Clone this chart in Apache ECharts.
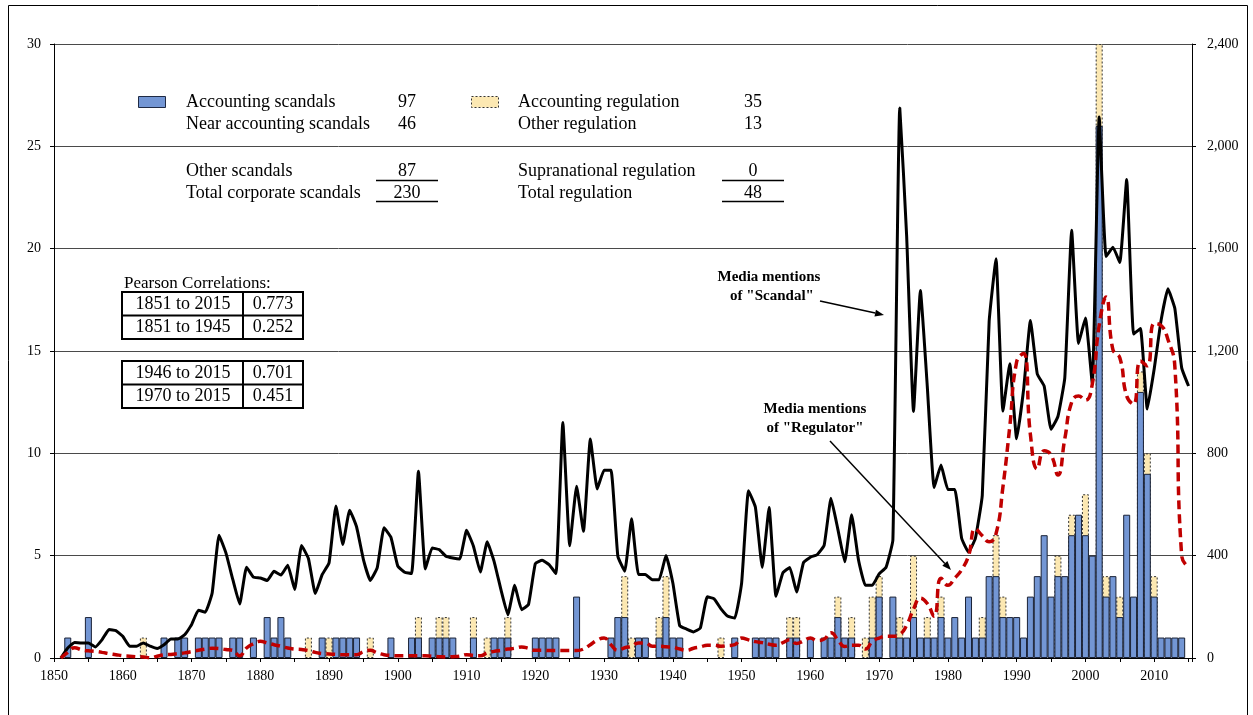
<!DOCTYPE html>
<html><head><meta charset="utf-8">
<script src="https://cdn.jsdelivr.net/npm/echarts@6/dist/echarts.min.js"></script>
<style>html,body{margin:0;padding:0;background:#fff;}#c{width:1253px;height:715px;}</style>
</head><body><div id="c"></div>
<script>
// ---------------- DATA (one value per year, starting 1851) ----------------
const FIRST_YEAR = 1851;

// corporate scandals per year (blue bars)
const scandals1851to1900 = [
  0,1,0,0,2,0,0,0,0,0,
  0,0,0,0,0,1,0,1,1,0,
  1,1,1,1,0,1,1,0,1,0,
  2,1,2,1,0,0,0,0,1,0,
  1,1,1,1,0,0,0,0,1,0];
const scandals1901to1950 = [
  0,1,1,0,1,1,1,1,0,0,
  1,0,0,1,1,1,0,0,0,1,
  1,1,1,0,0,3,0,0,0,0,
  1,2,2,0,1,1,0,1,2,1,
  1,0,0,0,0,0,0,0,1,0];
const scandals1951to2000 = [
  0,1,1,1,1,0,1,1,0,1,
  0,1,1,2,1,1,0,0,1,3,
  0,3,1,1,2,1,1,1,2,1,
  2,1,3,1,1,4,4,2,2,2,
  1,3,4,6,3,4,4,6,7,6];
const scandals2001to2015 = [5,26,3,4,2,7,3,13,9,3, 1,1,1,1,0];

// regulation per year (yellow bars, stacked on top of the scandals)
const regulation1851to1900 = [
  0,0,0,0,0,0,0,0,0,0,
  0,0,1,0,0,0,0,0,0,0,
  0,0,0,0,0,0,0,0,0,0,
  0,0,0,0,0,0,1,0,0,1,
  0,0,0,0,0,1,0,0,0,0];
const regulation1901to1950 = [
  0,0,1,0,0,1,1,0,0,0,
  1,0,1,0,0,1,0,0,0,0,
  0,0,0,0,0,0,0,0,0,0,
  0,0,2,1,0,0,0,1,2,0,
  0,0,0,0,0,0,1,0,0,0];
const regulation1951to2000 = [
  0,0,0,0,0,0,1,1,0,0,
  0,0,0,1,0,1,0,1,2,1,
  0,0,1,0,3,0,1,0,1,0,
  0,0,0,0,1,0,2,1,0,0,
  0,0,0,0,0,1,0,1,0,2];
const regulation2001to2015 = [0,4,1,0,1,0,0,1,1,1, 0,0,0,0,0];

// media mentions of "Scandal" (black line, right axis)
const scandalMentions1851to1900 = [
  0,39,61,59,59,43,72,111,107,85,
  46,46,59,46,37,52,74,74,91,130,
  187,179,254,480,411,307,211,355,316,313,
  303,339,324,363,268,440,389,252,326,372,
  594,444,578,513,385,303,352,509,472,359];
const scandalMentions1901to1950 = [
  335,330,730,348,430,424,398,391,387,499,
  437,336,454,378,267,169,284,189,209,369,
  382,365,330,921,439,671,495,856,661,734,
  734,398,339,544,326,326,306,306,401,293,
  126,113,102,117,239,231,192,163,156,293];
const scandalMentions1951to2000 = [
  654,590,354,588,241,333,354,258,373,394,
  404,440,624,503,376,560,383,284,284,329,
  354,461,2150,1650,964,1436,1063,666,754,659,
  659,468,414,468,636,1316,1561,965,1150,857,
  1047,1319,1110,1063,894,944,1095,1672,1229,1329];
const scandalMentions2001to2015 = [1071,2115,1569,1606,1546,1870,1266,1288,973,1130, 1319,1443,1367,1134,1063];

// media mentions of "Regulator" (red dashed line, right axis)
const regulatorMentions1851to1900 = [
  0,22,40,32,28,26,22,17,13,9,
  7,5,4,1,7,12,14,17,20,25,
  30,35,38,37,33,30,9,39,56,65,
  59,52,46,39,35,33,29,22,17,16,
  14,13,13,13,25,30,20,13,10,9];
const regulatorMentions1901to1950 = [
  9,9,9,9,7,5,4,5,7,13,
  10,9,20,26,30,35,38,43,38,30,
  30,29,29,29,29,29,35,52,70,78,
  52,30,40,46,59,59,46,46,44,42,
  35,30,38,43,50,50,46,48,52,78];
const regulatorMentions1951to2000 = [
  71,64,60,54,50,60,71,57,67,78,
  68,74,99,71,45,50,50,35,64,78,
  85,85,92,128,191,234,213,163,312,284,
  312,345,399,505,478,454,486,668,905,1158,
  1190,873,739,810,794,715,857,1000,1024,1008];
const regulatorMentions2001to2015 = [1071,1300,1411,1205,1174,1024,992,1161,1142,1308, 1300,1245,1142,399,354];

// legend / table texts
const legendLeft = [["Accounting scandals","97"],["Near accounting scandals","46"],["Other scandals","87"],["Total corporate scandals","230"]];
const legendRight = [["Accounting regulation","35"],["Other regulation","13"],["Supranational regulation","0"],["Total regulation","48"]];
const pearsonRows = [["1851 to 2015","0.773"],["1851 to 1945","0.252"],["1946 to 2015","0.701"],["1970 to 2015","0.451"]];

// ---------------- BUILD ----------------
const scandals = [].concat(scandals1851to1900, scandals1901to1950, scandals1951to2000, scandals2001to2015);
const regulation = [].concat(regulation1851to1900, regulation1901to1950, regulation1951to2000, regulation2001to2015);
const scandalMentions = [].concat(scandalMentions1851to1900, scandalMentions1901to1950, scandalMentions1951to2000, scandalMentions2001to2015);
const regulatorMentions = [].concat(regulatorMentions1851to1900, regulatorMentions1901to1950, regulatorMentions1951to2000, regulatorMentions2001to2015);

// the regulation segment sits on top of the scandal bar: draw the stack top (scandals+regulation)
// underneath, and the scandal bar over it at the same position
const scandalBars = scandals.map((v, i) => [FIRST_YEAR + i, v > 0 ? v : '-']);
const regulationTopBars = regulation.map((v, i) => [FIRST_YEAR + i, v > 0 ? v + scandals[i] : '-']);
const lineData = arr => arr.map((v, i) => [FIRST_YEAR + i, v]);

const SERIF = '"Liberation Serif", "Times New Roman", serif';
function txt(x, y, text, size, align, bold) {
  return { type: 'text', z: 100, style: {
    text: text, x: x, y: y, fill: '#000',
    font: (bold ? 'bold ' : '') + size + 'px ' + SERIF,
    align: align || 'left', verticalAlign: 'middle',
    textAlign: align || 'left', textVerticalAlign: 'middle' } };
}
function hline(x1, x2, y, w) {
  return { type: 'line', z: 100, shape: { x1: x1, y1: y, x2: x2, y2: y }, style: { stroke: '#000', lineWidth: w || 1.5 } };
}
function vline(x, y1, y2, w) {
  return { type: 'line', z: 100, shape: { x1: x, y1: y1, x2: x, y2: y2 }, style: { stroke: '#000', lineWidth: w || 1.5 } };
}
function arrow(x1, y1, x2, y2) {
  const a = Math.atan2(y2 - y1, x2 - x1), L = 9, W = 3.5;
  const bx = x2 - L * Math.cos(a), by = y2 - L * Math.sin(a);
  return [
    { type: 'line', z: 100, shape: { x1: x1, y1: y1, x2: bx, y2: by }, style: { stroke: '#000', lineWidth: 1.5 } },
    { type: 'polygon', z: 100, shape: { points: [[x2, y2], [bx + W * Math.sin(a), by - W * Math.cos(a)], [bx - W * Math.sin(a), by + W * Math.cos(a)]] }, style: { fill: '#000' } }
  ];
}

const g = [];
g.push({ type: 'rect', z: 100, shape: { x: 8.5, y: 5.5, width: 1239, height: 730 }, style: { fill: 'none', stroke: '#000', lineWidth: 1 } });
g.push({ type: 'rect', z: 100, shape: { x: 138.5, y: 96.5, width: 27, height: 11 }, style: { fill: '#7396d4', stroke: '#1f2a44', lineWidth: 1 } });
g.push({ type: 'rect', z: 100, shape: { x: 471.5, y: 96.5, width: 27, height: 11 }, style: { fill: '#fce8b2', stroke: '#333', lineWidth: 1, lineDash: [2, 2] } });
const rowY = [102, 124, 171, 193];
legendLeft.forEach((r, i) => { g.push(txt(186, rowY[i], r[0], 18)); g.push(txt(407, rowY[i], r[1], 18, 'center')); });
legendRight.forEach((r, i) => { g.push(txt(518, rowY[i], r[0], 18)); g.push(txt(753, rowY[i], r[1], 18, 'center')); });
g.push(hline(376, 438, 180.5)); g.push(hline(376, 438, 201.5));
g.push(hline(722, 784, 180.5)); g.push(hline(722, 784, 201.5));
g.push(txt(124, 284, 'Pearson Correlations:', 17));
[292, 361].forEach((top, b) => {
  g.push({ type: 'rect', z: 100, shape: { x: 122, y: top, width: 181, height: 47 }, style: { fill: '#fff', stroke: '#000', lineWidth: 2 } });
  g.push(hline(122, 303, top + 23.5, 2));
  g.push(vline(243, top, top + 47, 2));
  for (let r = 0; r < 2; r++) {
    const row = pearsonRows[b * 2 + r];
    g.push(txt(183, top + 12 + r * 23.5, row[0], 18, 'center'));
    g.push(txt(273, top + 12 + r * 23.5, row[1], 18, 'center'));
  }
});
g.push(txt(769, 277, 'Media mentions', 15, 'center', true));
g.push(txt(772, 296, 'of "Scandal"', 15, 'center', true));
arrow(820, 301, 884, 315).forEach(e => g.push(e));
g.push(txt(815, 409, 'Media mentions', 15, 'center', true));
g.push(txt(815, 428, 'of "Regulator"', 15, 'center', true));
arrow(830, 441, 951, 570).forEach(e => g.push(e));

const axisFont = { fontFamily: SERIF, fontSize: 14, color: '#000' };

const option = {
  animation: false,
  backgroundColor: '#fff',
  grid: { left: 54, right: 61, top: 44, bottom: 57, containLabel: false },
  xAxis: {
    type: 'value', min: 1850, max: 2015.5, interval: 5,
    axisLine: { show: true, onZero: false, lineStyle: { color: '#000', width: 1 } },
    axisTick: { show: true, length: 4, lineStyle: { color: '#000' } },
    axisLabel: Object.assign({ margin: 11, formatter: v => (v % 10 === 0 ? String(v) : '') }, axisFont),
    splitLine: { show: false }
  },
  yAxis: [
    { type: 'value', min: 0, max: 30, interval: 5, position: 'left',
      axisLine: { show: true, lineStyle: { color: '#000' } },
      axisTick: { show: true, length: 4, lineStyle: { color: '#000' } },
      axisLabel: Object.assign({ margin: 13 }, axisFont),
      splitLine: { show: true, lineStyle: { color: '#4a4a4a', width: 1 } } },
    { type: 'value', min: 0, max: 2400, interval: 400, position: 'right',
      axisLine: { show: true, lineStyle: { color: '#000' } },
      axisTick: { show: true, length: 4, lineStyle: { color: '#000' } },
      axisLabel: Object.assign({ margin: 15, formatter: v => v >= 1000 ? Math.floor(v / 1000) + ',' + String(v % 1000).padStart(3, '0') : String(v) }, axisFont),
      splitLine: { show: false } }
  ],
  series: [
    { name: 'Regulation', type: 'bar', yAxisIndex: 0, barWidth: 7, barGap: '-100%', z: 2,
      itemStyle: { color: '#fce8b2', borderColor: '#333', borderWidth: 1, borderType: [2, 2] },
      data: regulationTopBars },
    { name: 'Scandals', type: 'bar', yAxisIndex: 0, barWidth: 7, barGap: '-100%', z: 3,
      itemStyle: { color: '#7396d4', borderColor: '#1a2236', borderWidth: 1 },
      data: scandalBars },
    { name: 'Scandal mentions', type: 'line', yAxisIndex: 1, symbol: 'none', smooth: 0.12,
      lineStyle: { color: '#000', width: 3 }, data: lineData(scandalMentions), z: 5 },
    { name: 'Regulator mentions', type: 'line', yAxisIndex: 1, symbol: 'none', smooth: 0.5,
      lineStyle: { color: '#c00000', width: 3.5, type: [9, 5] }, data: lineData(regulatorMentions), z: 6 }
  ],
  graphic: { elements: g }
};
const chart = echarts.init(document.getElementById('c'), null, { renderer: 'canvas' });
chart.setOption(option);
</script></body></html>
